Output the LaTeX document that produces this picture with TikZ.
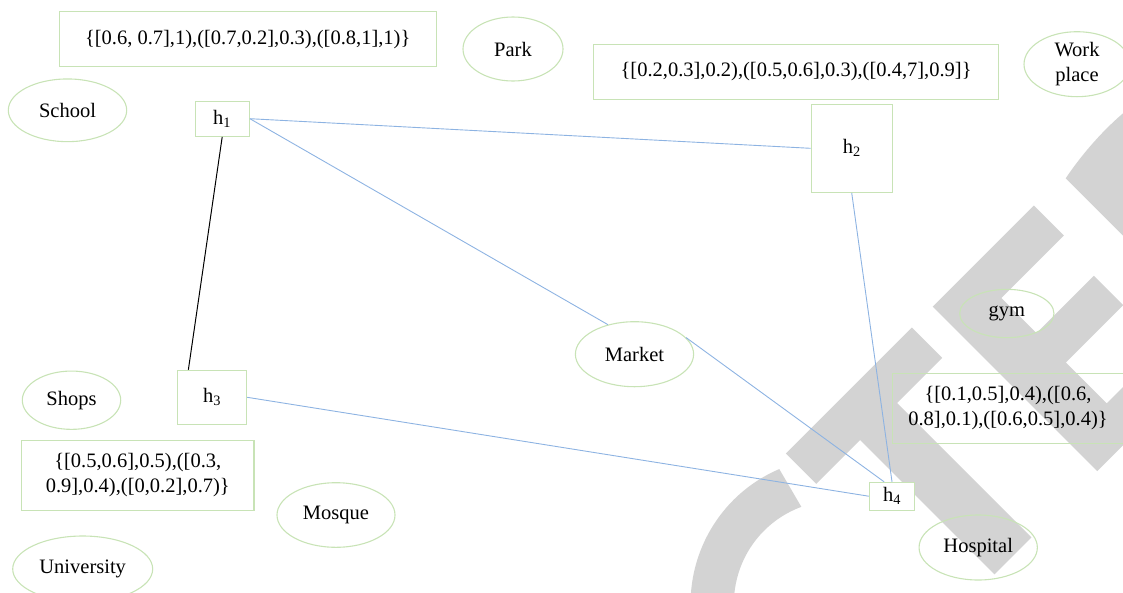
\documentclass[tikz,border=0pt]{standalone}
\usepackage{fontspec}
\setmainfont{Liberation Serif}
\usetikzlibrary{shapes.geometric,calc}
\definecolor{boxgreen}{RGB}{200,227,182}
\definecolor{linkblue}{RGB}{141,179,226}
\definecolor{markgrey}{RGB}{211,211,211}

\begin{document}
\begin{tikzpicture}[x=1pt,y=-1pt,
  every node/.style={font=\fontsize{20.5}{25}\selectfont, text=black},
  size/.style 2 args={minimum width=#1pt, minimum height=#2pt},
  place/.style={ellipse, draw=boxgreen, line width=1.1pt, inner sep=0pt},
  setbox/.style={rectangle, draw=boxgreen, line width=1.1pt, inner sep=0pt, align=center},
  hub/.style={rectangle, draw=boxgreen, fill=white, line width=1.1pt, inner sep=0pt},
  link/.style={draw=linkblue, line width=0.9pt},
  tie/.style={draw=black, line width=1pt}]
\useasboundingbox (0,0) rectangle (1123,592);

% large grey lettering in the background
\begin{scope}[fill=markgrey]
  % curved letter
  \fill (836.9,603.5) ++(-113.2:146.3)
        arc[start angle=-113.2, end angle=-250, radius=146.3]
        -- ($(836.9,603.5)+(-250:103)$)
        arc[start angle=-250, end angle=-110.2, radius=103] -- cycle;
  % T
  \fill (785.8,453.5) -- (911.8,327.5) -- (942.2,357.9) -- (897,403)
        -- (1031.4,537.4) -- (994.4,574.4) -- (860,440) -- (816.2,483.9) -- cycle;
  % E
  \fill (932.65,306.65) -- (1033.8,205.5) -- (1063.8,235.5) -- (1001.3,298)
        -- (1036.5,333.2) -- (1093.85,275.85) -- (1123.15,305.15) -- (1065.8,362.5)
        -- (1106.65,403.35) -- (1180,330) -- (1209.15,359.15) -- (1097.15,471.15) -- cycle;
  % D
  \fill (1065.7,178.3) .. controls (1080,157) and (1100,133) .. (1123,113.3)
        -- (1200,60) -- (1260,200) -- (1227.7,340.3) -- cycle;
\end{scope}

% value sets
\node[setbox, size={376.7}{55}] (s1) at (247.7,39.2) {\{[0.6, 0.7],1),([0.7,0.2],0.3),([0.8,1],1)\}};
\node[setbox, size={404.4}{55}] (s2) at (796.1,71.8) {\{[0.2,0.3],0.2),([0.5,0.6],0.3),([0.4,7],0.9]\}};
\node[setbox, size={232.3}{70.4}] (s3) at (137.8,475.5) {\{[0.5,0.6],0.5),([0.3,\\0.9],0.4),([0,0.2],0.7)\}};
\node[setbox, size={231.4}{70}] (s4) at (1008,408.3) {\{[0.1,0.5],0.4),([0.6,\\0.8],0.1),([0.6,0.5],0.4)\}};

% places
\node[place, size={100}{64}] (park) at (513,49) {Park};
\node[place, size={106}{65}, align=center] (work) at (1077,64.2) {Work\\place};
\node[place, size={118.4}{62.7}] (school) at (67.5,110.3) {School};
\node[place, size={94.3}{48.3}] (gym) at (1006.8,313.5) {gym};
\node[place, size={118.2}{65}] (market) at (634.5,354.2) {Market};
\node[place, size={98.4}{58.3}] (shops) at (71.5,400.2) {Shops};
\node[place, size={118}{64.6}] (mosque) at (336,515) {Mosque};
\node[place, size={118.3}{65}] (hospital) at (978.2,547.5) {Hospital};
\node[place, size={140}{66}] (university) at (82.7,569) {University};

% hubs
\node[hub, size={54.3}{35.3}] (h1) at (222.2,118.7) {h\textsubscript{1}};
\node[hub, size={81.3}{88}] (h2) at (851.7,148.3) {h\textsubscript{2}};
\node[hub, size={69}{54}] (h3) at (212.2,397.3) {h\textsubscript{3}};
\node[hub, size={45.4}{27.7}] (h4) at (892,496.2) {h\textsubscript{4}};

% connections
\draw[link] (h1.east) -- (h2.west);
\draw[link] (h1.east) -- (market.132);
\draw[tie] (h1.south) -- ($(h3.north west)!0.16!(h3.north east)$);
\draw[link] (h2.south) -- (h4.north);
\draw[link] (market.18) -- ($(h4.north west)!0.33!(h4.north east)$);
\draw[link] (h3.east) -- (h4.west);
\end{tikzpicture}
\end{document}
